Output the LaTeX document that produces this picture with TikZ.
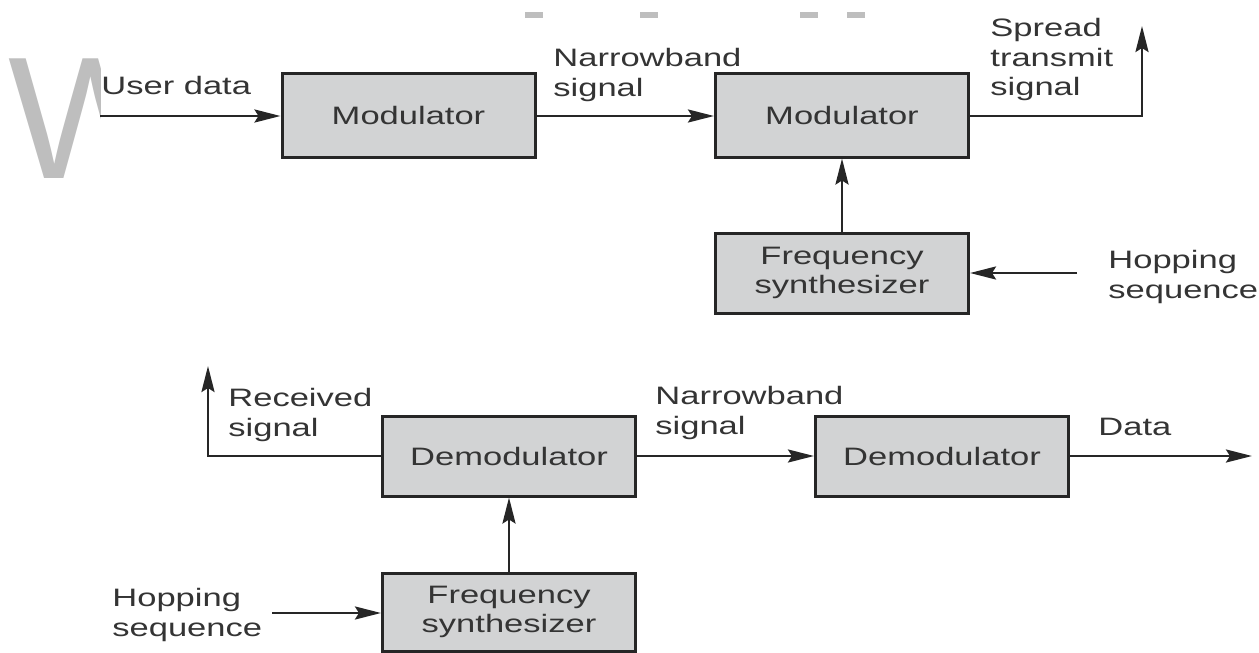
\documentclass[tikz,border=0pt]{standalone}
\usepackage{fontspec}
\setmainfont{Liberation Sans}[FakeStretch=1.37]
\newfontfamily\markfont{Liberation Sans}
\usetikzlibrary{arrows.meta}
\definecolor{boxgray}{RGB}{210,211,212}
\definecolor{txtgray}{RGB}{52,52,52}
\definecolor{markgray}{RGB}{190,190,190}
\begin{document}
\begin{tikzpicture}[x=0.5pt,y=-0.5pt,
  every node/.style={inner sep=0pt, text=txtgray, font=\fontsize{12.6}{14.7}\selectfont},
  block/.style={draw=black!85, line width=1.5pt, fill=boxgray, align=center,
                minimum width=126.5pt},
  lbl/.style={anchor=north west, align=left},
  conn/.style={draw=black!85, line width=1.35pt,
               -{Stealth[length=13pt,width=6.5pt,inset=2pt]}}]
\useasboundingbox (0,0) rectangle (1259,653);

% large watermark letter, cut at its right side
\begin{scope}
  \clip (0,0) rectangle (100,653);
  \node[anchor=north west, text=markgray, font=\markfont\fontsize{87}{87}\selectfont]
    (wm) at (8,58) {\makebox[45pt][l]{W}};
\end{scope}

% short grey bars along the top
\foreach \xa in {525,640,800,847}
  \fill[markgray] (\xa,12) rectangle (\xa+18,18);

% ---------- transmitter ----------
\node[block, minimum height=42pt] (mod1) at (408.5,115) {Modulator};
\node[block, minimum height=42pt] (mod2) at (842,115) {Modulator};
\node[block, minimum height=40pt] (fs1) at (842,273) {Frequency\\synthesizer};

\coordinate (ud) at (100,116);
\coordinate (sp) at (1142,26);
\coordinate (hop1) at (1077,273);

\draw[conn] (ud) -- (ud -| mod1.west);
\draw[conn] (mod1.east |- ud) -- (mod2.west |- ud);
\draw[conn] (mod2.east |- ud) -- (sp |- ud) -- (sp);
\draw[conn] (fs1.north) -- (mod2.south);
\draw[conn] (hop1) -- (fs1.east |- hop1);

\node[lbl] (lud) at (101,76) {User data};
\node[lbl] (lnb1) at (553,48) {Narrowband\\signal};
\node[lbl] (lsp) at (990,18) {Spread\\transmit\\signal};
\node[lbl] (lhop1) at (1108,250) {Hopping\\sequence};

% ---------- receiver ----------
\node[block, minimum height=40pt] (dem1) at (509,456) {Demodulator};
\node[block, minimum height=40pt] (dem2) at (942,456) {Demodulator};
\node[block, minimum height=39pt] (fs2) at (509,612) {Frequency\\synthesizer};

\coordinate (rx) at (208,366);
\coordinate (dout) at (1252,456);
\coordinate (hop2) at (272,613);

\draw[conn] (dem1.west) -- (rx |- dem1.west) -- (rx);
\draw[conn] (dem1.east) -- (dem2.west);
\draw[conn] (dem2.east) -- (dout);
\draw[conn] (fs2.north) -- (dem1.south);
\draw[conn] (hop2) -- (fs2.west |- hop2);

\node[lbl] (lrx) at (228,388) {Received\\signal};
\node[lbl] (lnb2) at (655,386) {Narrowband\\signal};
\node[lbl] (ldat) at (1098,418) {Data};
\node[lbl] (lhop2) at (112,588) {Hopping\\sequence};
\end{tikzpicture}
\end{document}
